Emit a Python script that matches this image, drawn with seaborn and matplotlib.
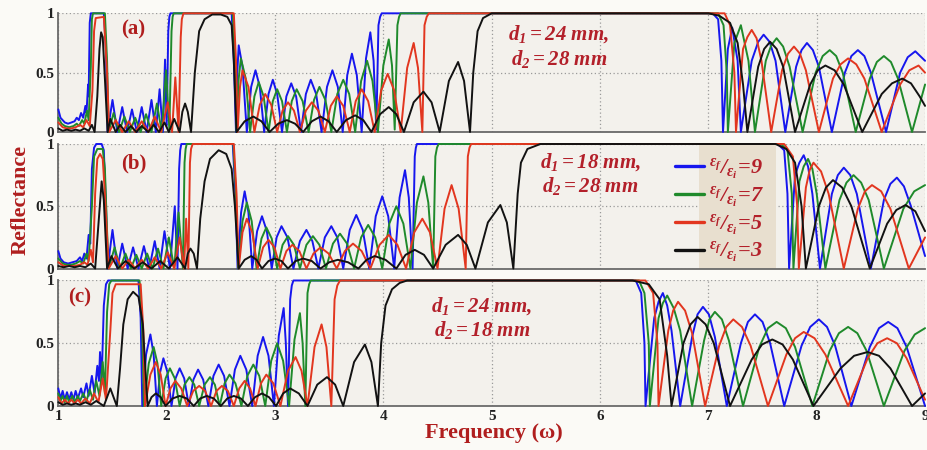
import matplotlib
matplotlib.use("Agg")
import matplotlib.pyplot as plt
import seaborn as sns
import pandas as pd
from matplotlib.lines import Line2D
from matplotlib.patches import Rectangle

# ---------------------------------------------------------------------------
# Reflectance spectra (frequency, reflectance) for three layer geometries and
# four permittivity ratios eps_f/eps_i = 9, 7, 5, 3.
# ---------------------------------------------------------------------------
ratios = [9, 7, 5, 3]
panel_tags = ["(a)", "(b)", "(c)"]
d1_mm = [24, 18, 24]
d2_mm = [28, 28, 18]
x_ticks = [1, 2, 3, 4, 5, 6, 7, 8, 9]
y_ticks = [0, 0.5, 1]
y_tick_labels = ["0", "0.5", "1"]

# ---- panel (a): d1 = 24 mm, d2 = 28 mm ----
A9 = [(1.00, 0.19), (1.02, 0.12), (1.04, 0.10), (1.06, 0.08), (1.09, 0.07), (1.12, 0.08), (1.15, 0.09),
      (1.17, 0.12), (1.19, 0.10), (1.21, 0.16), (1.23, 0.12), (1.25, 0.22), (1.26, 0.16), (1.275, 0.40),
      (1.28, 0.30), (1.29, 0.92), (1.30, 1.0), (1.42, 1.0), (1.44, 0.7), (1.455, 0.0),
      (1.50, 0.27), (1.545, 0.0), (1.59, 0.21), (1.635, 0.0), (1.68, 0.19), (1.725, 0.0), (1.77, 0.21),
      (1.815, 0.0), (1.86, 0.27), (1.90, 0.0), (1.935, 0.36), (1.965, 0.0), (1.985, 0.61), (2.00, 0.05),
      (2.015, 0.85), (2.025, 0.97), (2.035, 1.0), (2.60, 1.0), (2.62, 0.6), (2.64, 0.0),
      (2.652, 0.5), (2.665, 0.73), (2.70, 0.55), (2.74, 0.0), (2.78, 0.38), (2.82, 0.52), (2.86, 0.38),
      (2.90, 0.0), (2.94, 0.32), (2.98, 0.44), (3.02, 0.32), (3.065, 0.0), (3.105, 0.30), (3.15, 0.41),
      (3.195, 0.30), (3.24, 0.0), (3.285, 0.32), (3.33, 0.44), (3.38, 0.32), (3.43, 0.0), (3.48, 0.38),
      (3.53, 0.52), (3.58, 0.38), (3.625, 0.0), (3.667, 0.48), (3.71, 0.66), (3.755, 0.48), (3.80, 0.0),
      (3.84, 0.62), (3.88, 0.84), (3.91, 0.60), (3.935, 0.02), (3.955, 0.9), (3.97, 0.97), (3.985, 1.0),
      (7.04, 1.0), (7.09, 0.95), (7.12, 0.6), (7.135, 0.0), (7.18, 0.7), (7.22, 0.88), (7.27, 0.6),
      (7.30, 0.0), (7.40, 0.6), (7.46, 0.76), (7.51, 0.82), (7.565, 0.76), (7.62, 0.6), (7.71, 0.0),
      (7.81, 0.55), (7.86, 0.69), (7.91, 0.75), (7.965, 0.69), (8.02, 0.55), (8.14, 0.0), (8.26, 0.5),
      (8.32, 0.64), (8.38, 0.69), (8.44, 0.64), (8.50, 0.5), (8.64, 0.0), (8.77, 0.5), (8.84, 0.63),
      (8.91, 0.68), (9.00, 0.6)]
A7 = [(1.00, 0.12), (1.03, 0.07), (1.06, 0.05), (1.10, 0.04), (1.14, 0.05), (1.17, 0.07), (1.19, 0.05),
      (1.22, 0.10), (1.24, 0.07), (1.265, 0.18), (1.28, 0.10), (1.30, 0.55), (1.31, 0.95), (1.32, 1.0),
      (1.43, 1.0), (1.45, 0.6), (1.465, 0.0),
      (1.51, 0.16), (1.56, 0.0), (1.61, 0.13), (1.66, 0.0), (1.71, 0.12), (1.76, 0.0), (1.81, 0.15),
      (1.86, 0.0), (1.91, 0.24), (1.955, 0.0), (1.995, 0.52), (2.025, 0.02), (2.045, 0.85), (2.055, 0.97),
      (2.065, 1.0), (2.61, 1.0), (2.63, 0.6), (2.645, 0.0), (2.665, 0.45), (2.685, 0.62), (2.73, 0.45),
      (2.77, 0.0), (2.81, 0.30), (2.85, 0.42), (2.895, 0.30), (2.94, 0.0), (2.98, 0.26), (3.02, 0.36),
      (3.065, 0.26), (3.11, 0.0), (3.155, 0.26), (3.20, 0.36), (3.255, 0.26), (3.31, 0.0), (3.36, 0.27),
      (3.41, 0.38), (3.465, 0.27), (3.52, 0.0), (3.575, 0.32), (3.63, 0.44), (3.685, 0.32), (3.74, 0.0),
      (3.795, 0.43), (3.85, 0.60), (3.90, 0.43), (3.95, 0.0), (4.00, 0.56), (4.05, 0.78), (4.08, 0.56),
      (4.105, 0.02), (4.13, 0.9), (4.145, 0.97), (4.16, 1.0),
      (7.09, 1.0), (7.14, 0.9), (7.17, 0.5), (7.18, 0.0), (7.24, 0.75), (7.30, 0.9), (7.37, 0.6),
      (7.43, 0.0), (7.53, 0.6), (7.58, 0.73), (7.63, 0.79), (7.69, 0.72), (7.75, 0.55), (7.87, 0.0),
      (7.99, 0.5), (8.055, 0.64), (8.12, 0.69), (8.18, 0.64), (8.24, 0.5), (8.36, 0.0), (8.49, 0.45),
      (8.555, 0.59), (8.62, 0.64), (8.685, 0.59), (8.75, 0.45), (8.88, 0.0), (9.00, 0.4)]
A5 = [(1.00, 0.08), (1.04, 0.04), (1.08, 0.03), (1.12, 0.03), (1.16, 0.04), (1.20, 0.06), (1.23, 0.04),
      (1.26, 0.10), (1.29, 0.05), (1.315, 0.35), (1.33, 0.85), (1.345, 0.96), (1.42, 0.97), (1.45, 0.5),
      (1.47, 0.0),
      (1.53, 0.10), (1.59, 0.0), (1.65, 0.09), (1.71, 0.0), (1.77, 0.09), (1.83, 0.0), (1.89, 0.13),
      (1.95, 0.0), (2.01, 0.25), (2.05, 0.0), (2.08, 0.46), (2.11, 0.0), (2.13, 0.8), (2.14, 0.95),
      (2.155, 1.0), (2.62, 1.0), (2.64, 0.6), (2.655, 0.0), (2.677, 0.38), (2.70, 0.52), (2.755, 0.38),
      (2.81, 0.0), (2.86, 0.23), (2.91, 0.32), (2.965, 0.23), (3.02, 0.0), (3.07, 0.18), (3.12, 0.25),
      (3.175, 0.18), (3.23, 0.0), (3.285, 0.18), (3.34, 0.25), (3.40, 0.18), (3.46, 0.0), (3.515, 0.22),
      (3.57, 0.30), (3.63, 0.22), (3.69, 0.0), (3.745, 0.26), (3.80, 0.36), (3.86, 0.26), (3.92, 0.0),
      (3.98, 0.35), (4.04, 0.49), (4.10, 0.35), (4.16, 0.0), (4.22, 0.54), (4.28, 0.75), (4.32, 0.54),
      (4.36, 0.0), (4.38, 0.9), (4.40, 0.97), (4.42, 1.0),
      (7.15, 1.0), (7.20, 0.9), (7.24, 0.5), (7.255, 0.0), (7.32, 0.7), (7.36, 0.80), (7.40, 0.86),
      (7.445, 0.79), (7.49, 0.6), (7.58, 0.0), (7.68, 0.52), (7.735, 0.66), (7.79, 0.72), (7.845, 0.66),
      (7.90, 0.52), (8.02, 0.0), (8.15, 0.45), (8.22, 0.57), (8.29, 0.62), (8.365, 0.57), (8.44, 0.45),
      (8.60, 0.0), (8.77, 0.4), (8.855, 0.52), (8.94, 0.56), (9.00, 0.5)]
A3 = [(1.00, 0.03), (1.04, 0.01), (1.08, 0.02), (1.12, 0.01), (1.16, 0.02), (1.20, 0.01), (1.24, 0.03),
      (1.28, 0.01), (1.31, 0.06), (1.335, 0.0), (1.36, 0.3), (1.38, 0.7), (1.395, 0.84), (1.41, 0.8),
      (1.43, 0.45), (1.455, 0.0),
      (1.48, 0.11), (1.53, 0.0), (1.57, 0.06), (1.62, 0.0), (1.67, 0.05), (1.72, 0.0), (1.77, 0.05),
      (1.83, 0.0), (1.88, 0.06), (1.93, 0.0), (1.98, 0.08), (2.02, 0.0), (2.07, 0.11), (2.12, 0.0),
      (2.145, 0.17), (2.17, 0.24), (2.195, 0.17), (2.225, 0.0), (2.26, 0.5), (2.30, 0.85), (2.35, 0.95),
      (2.42, 0.99), (2.50, 0.99), (2.56, 0.97), (2.60, 0.9), (2.62, 0.6), (2.645, 0.0),
      (2.72, 0.09), (2.80, 0.13), (2.875, 0.09), (2.95, 0.0), (3.03, 0.07), (3.11, 0.10), (3.185, 0.07),
      (3.26, 0.0), (3.34, 0.09), (3.42, 0.13), (3.495, 0.09), (3.57, 0.0), (3.655, 0.10), (3.74, 0.14),
      (3.815, 0.10), (3.89, 0.0), (3.97, 0.15), (4.05, 0.21), (4.12, 0.15), (4.19, 0.0), (4.28, 0.25),
      (4.37, 0.34), (4.445, 0.25), (4.52, 0.0), (4.605, 0.43), (4.69, 0.59), (4.745, 0.43), (4.80, 0.0),
      (4.83, 0.5), (4.87, 0.85), (4.92, 0.96), (5.00, 1.0), (7.00, 1.0), (7.10, 0.98), (7.20, 0.92),
      (7.27, 0.75), (7.32, 0.4), (7.36, 0.0), (7.46, 0.55), (7.515, 0.70), (7.57, 0.76), (7.63, 0.70),
      (7.69, 0.55), (7.80, 0.0), (7.94, 0.4), (8.01, 0.52), (8.08, 0.56), (8.165, 0.52), (8.25, 0.4),
      (8.42, 0.0), (8.60, 0.32), (8.695, 0.41), (8.79, 0.45), (8.87, 0.41), (8.95, 0.3), (9.00, 0.22)]

# ---- panel (b): d1 = 18 mm, d2 = 28 mm ----
B9 = [(1.00, 0.14), (1.02, 0.08), (1.05, 0.05), (1.09, 0.04), (1.13, 0.05), (1.17, 0.06), (1.20, 0.09),
      (1.22, 0.06), (1.24, 0.12), (1.26, 0.08), (1.28, 0.27), (1.295, 0.2), (1.31, 0.8), (1.33, 0.97),
      (1.35, 1.0), (1.40, 1.0), (1.42, 0.95), (1.44, 0.5), (1.455, 0.0),
      (1.50, 0.31), (1.545, 0.0), (1.59, 0.20), (1.64, 0.0), (1.69, 0.17), (1.74, 0.0), (1.79, 0.18),
      (1.84, 0.0), (1.89, 0.22), (1.935, 0.0), (1.98, 0.30), (2.03, 0.0), (2.075, 0.50), (2.10, 0.0),
      (2.115, 0.8), (2.125, 0.95), (2.135, 1.0), (2.61, 1.0), (2.635, 0.6), (2.655, 0.0),
      (2.687, 0.45), (2.72, 0.62), (2.755, 0.45), (2.79, 0.0), (2.835, 0.30), (2.88, 0.42), (2.925, 0.30),
      (2.97, 0.0), (3.015, 0.25), (3.06, 0.34), (3.115, 0.25), (3.17, 0.0), (3.23, 0.22), (3.29, 0.31),
      (3.345, 0.22), (3.40, 0.0), (3.46, 0.25), (3.52, 0.34), (3.575, 0.25), (3.63, 0.0), (3.69, 0.31),
      (3.75, 0.43), (3.81, 0.31), (3.87, 0.0), (3.93, 0.42), (3.99, 0.58), (4.045, 0.42), (4.10, 0.0),
      (4.15, 0.57), (4.20, 0.79), (4.235, 0.57), (4.27, 0.0), (4.29, 0.9), (4.30, 0.97), (4.31, 1.0),
      (7.64, 1.0), (7.70, 0.95), (7.73, 0.6), (7.745, 0.0), (7.80, 0.75), (7.84, 0.85), (7.88, 0.91),
      (7.92, 0.82), (7.96, 0.6), (8.03, 0.0), (8.14, 0.6), (8.195, 0.75), (8.25, 0.81), (8.31, 0.75),
      (8.37, 0.6), (8.50, 0.0), (8.62, 0.55), (8.68, 0.68), (8.74, 0.73), (8.805, 0.66), (8.87, 0.5),
      (9.00, 0.1)]
B7 = [(1.00, 0.08), (1.04, 0.04), (1.08, 0.03), (1.12, 0.03), (1.16, 0.04), (1.20, 0.06), (1.23, 0.04),
      (1.26, 0.12), (1.28, 0.06), (1.31, 0.5), (1.33, 0.9), (1.36, 0.96), (1.41, 0.96), (1.43, 0.8),
      (1.45, 0.3), (1.465, 0.0),
      (1.52, 0.17), (1.57, 0.0), (1.62, 0.12), (1.67, 0.0), (1.72, 0.11), (1.77, 0.0), (1.82, 0.12),
      (1.87, 0.0), (1.92, 0.16), (1.97, 0.0), (2.02, 0.25), (2.07, 0.0), (2.11, 0.45), (2.15, 0.0),
      (2.165, 0.85), (2.175, 0.96), (2.185, 1.0), (2.615, 1.0), (2.64, 0.6), (2.66, 0.0),
      (2.70, 0.38), (2.74, 0.53), (2.785, 0.38), (2.83, 0.0), (2.875, 0.24), (2.92, 0.33), (2.97, 0.24),
      (3.02, 0.0), (3.07, 0.19), (3.12, 0.26), (3.175, 0.19), (3.23, 0.0), (3.29, 0.19), (3.35, 0.26),
      (3.41, 0.19), (3.47, 0.0), (3.535, 0.20), (3.60, 0.28), (3.665, 0.20), (3.73, 0.0), (3.795, 0.25),
      (3.86, 0.35), (3.925, 0.25), (3.99, 0.0), (4.055, 0.36), (4.12, 0.50), (4.185, 0.36), (4.25, 0.0),
      (4.31, 0.53), (4.37, 0.74), (4.415, 0.53), (4.46, 0.0), (4.48, 0.9), (4.495, 0.97), (4.51, 1.0),
      (7.67, 1.0), (7.73, 0.95), (7.77, 0.6), (7.785, 0.0), (7.84, 0.7), (7.88, 0.82), (7.92, 0.88),
      (7.96, 0.80), (8.00, 0.6), (8.08, 0.0), (8.21, 0.55), (8.275, 0.69), (8.34, 0.75), (8.41, 0.69),
      (8.48, 0.55), (8.62, 0.0), (8.80, 0.48), (8.90, 0.62), (9.00, 0.67)]
B5 = [(1.00, 0.05), (1.05, 0.02), (1.10, 0.02), (1.15, 0.02), (1.20, 0.03), (1.24, 0.05), (1.27, 0.03),
      (1.30, 0.15), (1.32, 0.05), (1.34, 0.6), (1.36, 0.88), (1.385, 0.92), (1.41, 0.88), (1.43, 0.6),
      (1.465, 0.0),
      (1.53, 0.10), (1.59, 0.0), (1.65, 0.07), (1.71, 0.0), (1.77, 0.07), (1.83, 0.0), (1.89, 0.09),
      (1.95, 0.0), (2.01, 0.13), (2.07, 0.0), (2.12, 0.25), (2.16, 0.0), (2.18, 0.40), (2.20, 0.0),
      (2.215, 0.85), (2.225, 0.96), (2.24, 1.0), (2.62, 1.0), (2.645, 0.6), (2.665, 0.0),
      (2.70, 0.29), (2.74, 0.40), (2.79, 0.29), (2.84, 0.0), (2.89, 0.17), (2.94, 0.23), (2.995, 0.17),
      (3.05, 0.0), (3.105, 0.14), (3.16, 0.19), (3.225, 0.14), (3.29, 0.0), (3.355, 0.12), (3.42, 0.17),
      (3.495, 0.12), (3.57, 0.0), (3.645, 0.14), (3.72, 0.20), (3.80, 0.14), (3.88, 0.0), (3.965, 0.19),
      (4.05, 0.27), (4.13, 0.19), (4.21, 0.0), (4.285, 0.29), (4.36, 0.40), (4.43, 0.29), (4.50, 0.0),
      (4.565, 0.48), (4.63, 0.67), (4.695, 0.48), (4.76, 0.0), (4.78, 0.9), (4.795, 0.97), (4.81, 1.0),
      (7.70, 1.0), (7.78, 0.9), (7.82, 0.5), (7.835, 0.0), (7.90, 0.65), (7.935, 0.79), (7.97, 0.85),
      (8.04, 0.78), (8.11, 0.6), (8.25, 0.0), (8.38, 0.48), (8.445, 0.62), (8.51, 0.67), (8.595, 0.62),
      (8.68, 0.48), (8.85, 0.0), (9.00, 0.25)]
B3 = [(1.00, 0.02), (1.05, 0.01), (1.10, 0.02), (1.15, 0.01), (1.20, 0.02), (1.25, 0.01), (1.30, 0.04),
      (1.34, 0.0), (1.37, 0.35), (1.40, 0.70), (1.42, 0.55), (1.45, 0.0),
      (1.49, 0.10), (1.55, 0.0), (1.62, 0.06), (1.70, 0.0), (1.78, 0.05), (1.86, 0.0), (1.94, 0.06),
      (2.02, 0.0), (2.10, 0.09), (2.17, 0.0), (2.195, 0.12), (2.22, 0.16), (2.25, 0.12), (2.28, 0.0),
      (2.31, 0.4), (2.35, 0.7), (2.40, 0.88), (2.48, 0.95), (2.55, 0.92), (2.60, 0.8), (2.63, 0.5),
      (2.665, 0.0), (2.72, 0.07), (2.78, 0.10), (2.83, 0.07), (2.88, 0.0), (2.94, 0.06), (3.00, 0.08),
      (3.06, 0.06), (3.12, 0.0), (3.19, 0.06), (3.26, 0.08), (3.34, 0.06), (3.42, 0.0), (3.50, 0.05),
      (3.58, 0.07), (3.675, 0.05), (3.77, 0.0), (3.845, 0.07), (3.92, 0.10), (4.02, 0.07), (4.12, 0.0),
      (4.205, 0.11), (4.29, 0.15), (4.375, 0.11), (4.46, 0.0), (4.575, 0.19), (4.69, 0.27), (4.77, 0.19),
      (4.85, 0.0), (4.965, 0.37), (5.08, 0.51), (5.14, 0.37), (5.20, 0.0), (5.24, 0.6), (5.27, 0.85),
      (5.33, 0.96), (5.45, 1.0), (7.62, 1.0), (7.72, 0.96), (7.80, 0.85), (7.86, 0.5), (7.90, 0.0),
      (8.02, 0.5), (8.085, 0.65), (8.15, 0.71), (8.235, 0.65), (8.32, 0.5), (8.49, 0.0), (8.65, 0.36),
      (8.735, 0.47), (8.82, 0.51), (8.91, 0.46), (9.00, 0.3)]

# ---- panel (c): d1 = 24 mm, d2 = 18 mm ----
C9 = [(1.00, 0.14), (1.02, 0.06), (1.04, 0.12), (1.06, 0.05), (1.08, 0.11), (1.10, 0.05), (1.12, 0.11),
      (1.14, 0.05), (1.16, 0.12), (1.18, 0.06), (1.21, 0.14), (1.23, 0.07), (1.26, 0.18), (1.28, 0.08),
      (1.31, 0.24), (1.335, 0.10), (1.36, 0.32), (1.375, 0.20), (1.385, 0.43), (1.40, 0.20), (1.42, 0.8),
      (1.44, 0.97), (1.46, 1.0), (1.74, 1.0), (1.76, 0.7), (1.775, 0.0),
      (1.81, 0.41), (1.85, 0.57), (1.88, 0.41), (1.91, 0.0), (1.94, 0.27), (1.97, 0.38), (2.007, 0.27),
      (2.045, 0.0), (2.082, 0.22), (2.12, 0.30), (2.162, 0.22), (2.205, 0.0), (2.247, 0.21), (2.29, 0.29),
      (2.337, 0.21), (2.385, 0.0), (2.432, 0.24), (2.48, 0.33), (2.53, 0.24), (2.58, 0.0), (2.63, 0.29),
      (2.68, 0.40), (2.735, 0.29), (2.79, 0.0), (2.84, 0.40), (2.89, 0.55), (2.94, 0.40), (2.99, 0.0),
      (3.035, 0.56), (3.08, 0.78), (3.10, 0.50), (3.12, 0.0), (3.14, 0.85), (3.155, 0.96), (3.17, 1.0),
      (6.33, 1.0), (6.38, 0.9), (6.41, 0.5), (6.42, 0.0), (6.50, 0.7), (6.54, 0.83), (6.58, 0.90),
      (6.62, 0.80), (6.66, 0.6), (6.74, 0.0), (6.85, 0.55), (6.90, 0.73), (6.95, 0.79), (7.005, 0.73),
      (7.06, 0.55), (7.17, 0.0), (7.30, 0.5), (7.365, 0.67), (7.43, 0.73), (7.50, 0.67), (7.57, 0.5),
      (7.70, 0.0), (7.86, 0.48), (7.94, 0.63), (8.02, 0.69), (8.095, 0.63), (8.17, 0.48), (8.32, 0.0),
      (8.49, 0.47), (8.575, 0.62), (8.66, 0.67), (8.745, 0.62), (8.83, 0.47), (9.00, 0.0)]
C7 = [(1.00, 0.10), (1.02, 0.04), (1.04, 0.08), (1.06, 0.03), (1.08, 0.08), (1.10, 0.03), (1.13, 0.08),
      (1.15, 0.03), (1.18, 0.08), (1.20, 0.04), (1.23, 0.10), (1.26, 0.04), (1.29, 0.13), (1.32, 0.05),
      (1.35, 0.20), (1.38, 0.08), (1.41, 0.35), (1.43, 0.10), (1.45, 0.75), (1.47, 0.97), (1.49, 1.0),
      (1.75, 1.0), (1.775, 0.6), (1.79, 0.0),
      (1.835, 0.34), (1.88, 0.47), (1.915, 0.34), (1.95, 0.0), (1.99, 0.22), (2.03, 0.30), (2.075, 0.22),
      (2.12, 0.0), (2.165, 0.17), (2.21, 0.23), (2.255, 0.17), (2.30, 0.0), (2.35, 0.17), (2.40, 0.23),
      (2.445, 0.17), (2.49, 0.0), (2.535, 0.18), (2.58, 0.25), (2.635, 0.18), (2.69, 0.0), (2.745, 0.24),
      (2.80, 0.33), (2.855, 0.24), (2.91, 0.0), (2.965, 0.36), (3.02, 0.50), (3.075, 0.36), (3.13, 0.0),
      (3.18, 0.53), (3.23, 0.74), (3.255, 0.50), (3.28, 0.0), (3.30, 0.9), (3.315, 0.97), (3.33, 1.0),
      (6.36, 1.0), (6.41, 0.9), (6.45, 0.5), (6.46, 0.0), (6.54, 0.7), (6.58, 0.82), (6.62, 0.88),
      (6.68, 0.78), (6.74, 0.6), (6.85, 0.0), (6.96, 0.52), (7.01, 0.69), (7.06, 0.75), (7.125, 0.69),
      (7.19, 0.52), (7.32, 0.0), (7.47, 0.47), (7.55, 0.62), (7.63, 0.67), (7.715, 0.62), (7.80, 0.47),
      (7.96, 0.0), (8.12, 0.44), (8.205, 0.58), (8.29, 0.63), (8.375, 0.58), (8.46, 0.44), (8.62, 0.0),
      (8.81, 0.44), (8.905, 0.57), (9.00, 0.62)]
C5 = [(1.00, 0.07), (1.03, 0.02), (1.06, 0.05), (1.09, 0.02), (1.12, 0.05), (1.15, 0.02), (1.18, 0.05),
      (1.21, 0.02), (1.25, 0.06), (1.29, 0.02), (1.33, 0.10), (1.37, 0.03), (1.41, 0.22), (1.44, 0.05),
      (1.48, 0.6), (1.50, 0.9), (1.53, 0.97), (1.76, 0.97), (1.785, 0.6), (1.80, 0.0),
      (1.85, 0.25), (1.90, 0.35), (1.945, 0.25), (1.99, 0.0), (2.035, 0.14), (2.08, 0.20), (2.135, 0.14),
      (2.19, 0.0), (2.245, 0.12), (2.30, 0.16), (2.355, 0.12), (2.41, 0.0), (2.46, 0.12), (2.51, 0.16),
      (2.565, 0.12), (2.62, 0.0), (2.67, 0.14), (2.72, 0.20), (2.77, 0.14), (2.82, 0.0), (2.87, 0.18),
      (2.92, 0.25), (2.985, 0.18), (3.05, 0.0), (3.12, 0.28), (3.19, 0.39), (3.245, 0.28), (3.30, 0.0),
      (3.365, 0.47), (3.43, 0.65), (3.475, 0.47), (3.52, 0.0), (3.55, 0.85), (3.575, 0.96), (3.60, 1.0),
      (6.42, 1.0), (6.49, 0.9), (6.53, 0.5), (6.54, 0.0), (6.63, 0.6), (6.675, 0.76), (6.72, 0.83),
      (6.785, 0.76), (6.85, 0.58), (6.97, 0.0), (7.10, 0.48), (7.165, 0.63), (7.23, 0.69), (7.31, 0.63),
      (7.39, 0.48), (7.55, 0.0), (7.72, 0.41), (7.80, 0.54), (7.88, 0.59), (7.98, 0.54), (8.08, 0.41),
      (8.29, 0.0), (8.47, 0.38), (8.56, 0.50), (8.65, 0.54), (8.74, 0.50), (8.83, 0.38), (9.00, 0.05)]
C3 = [(1.00, 0.03), (1.04, 0.01), (1.08, 0.02), (1.12, 0.01), (1.16, 0.02), (1.20, 0.01), (1.25, 0.03),
      (1.30, 0.01), (1.35, 0.04), (1.42, 0.0), (1.48, 0.14), (1.54, 0.0), (1.57, 0.3), (1.60, 0.65),
      (1.64, 0.85), (1.69, 0.91), (1.74, 0.87), (1.78, 0.65), (1.81, 0.2), (1.825, 0.0),
      (1.86, 0.07), (1.90, 0.10), (1.945, 0.07), (1.99, 0.0), (2.055, 0.06), (2.12, 0.08), (2.185, 0.06),
      (2.25, 0.0), (2.31, 0.06), (2.37, 0.08), (2.435, 0.06), (2.50, 0.0), (2.56, 0.06), (2.62, 0.08),
      (2.685, 0.06), (2.75, 0.0), (2.815, 0.07), (2.88, 0.10), (2.945, 0.07), (3.01, 0.0), (3.075, 0.10),
      (3.14, 0.14), (3.22, 0.10), (3.30, 0.0), (3.39, 0.17), (3.48, 0.23), (3.555, 0.17), (3.63, 0.0),
      (3.73, 0.35), (3.83, 0.49), (3.89, 0.35), (3.95, 0.0), (3.98, 0.5), (4.02, 0.8), (4.08, 0.93),
      (4.15, 0.98), (4.22, 1.0),
      (6.30, 1.0), (6.45, 0.97), (6.55, 0.85), (6.62, 0.4), (6.66, 0.0), (6.77, 0.5), (6.835, 0.65),
      (6.90, 0.71), (6.975, 0.65), (7.05, 0.5), (7.20, 0.0), (7.40, 0.37), (7.495, 0.49), (7.59, 0.53),
      (7.685, 0.49), (7.78, 0.37), (7.97, 0.0), (8.22, 0.3), (8.345, 0.40), (8.47, 0.43), (8.575, 0.40),
      (8.68, 0.3), (8.88, 0.0), (9.00, 0.1)]

spectra = {
    "a": {9: A9, 7: A7, 5: A5, 3: A3},
    "b": {9: B9, 7: B7, 5: B5, 3: B3},
    "c": {9: C9, 7: C7, 5: C5, 3: C3},
}

# ---------------------------------------------------------------------------
# Styling
# ---------------------------------------------------------------------------
sns.set_theme(style="white")
plt.rcParams["font.family"] = ["Liberation Serif", "DejaVu Serif"]
plt.rcParams["mathtext.fontset"] = "custom"
plt.rcParams["mathtext.rm"] = "Liberation Serif:bold:italic"
plt.rcParams["mathtext.it"] = "Liberation Serif:bold:italic"
plt.rcParams["mathtext.bf"] = "Liberation Serif:bold:italic"

line_colors = {9: "#1616ee", 7: "#1f8a2b", 5: "#e2361f", 3: "#121212"}
text_red = "#b3202a"
label_red = "#b01e1e"
fig_bg = "#fbfaf6"
ax_bg = "#f3f1ec"
legend_bg = "#e8dfcf"

fig = plt.figure(figsize=(9.27, 4.5), dpi=100, facecolor=fig_bg)
left, width = 0.0629, 0.935
boxes = [(0.7067, 0.2637), (0.4033, 0.2767), (0.0978, 0.2789)]

tag_pos = [(1.69, 0.86), (1.70, 0.84), (1.20, 0.865)]
note_pos = [(5.62, 0.72), (5.91, 0.76), (4.91, 0.70)]

for i, key in enumerate(["a", "b", "c"]):
    bottom, height = boxes[i]
    ax = fig.add_axes([left, bottom, width, height])
    ax.set_facecolor(ax_bg)

    for ratio in ratios:
        pts = spectra[key][ratio]
        df = pd.DataFrame(pts, columns=["frequency", "reflectance"])
        sns.lineplot(data=df, x="frequency", y="reflectance", ax=ax,
                     color=line_colors[ratio], linewidth=1.4, sort=False,
                     estimator=None, legend=False, zorder=3)
    for ln in ax.lines:
        ln.set_clip_on(False)
        ln.set_solid_joinstyle("round")

    ax.set_xlim(1, 9)
    ax.set_ylim(0, 1)
    ax.set_xticks(x_ticks)
    ax.set_yticks(y_ticks)
    ax.set_yticklabels(y_tick_labels)
    if key == "c":
        ax.set_xticklabels([str(t) for t in x_ticks])
    else:
        ax.set_xticklabels([])
    ax.set_xlabel("")
    ax.set_ylabel("")
    ax.grid(True, color="#9a9a9a", linestyle=(0, (1, 2)), linewidth=0.9)
    ax.set_axisbelow(True)
    for side in ["top", "right"]:
        ax.spines[side].set_visible(False)
    for side in ["left", "bottom"]:
        ax.spines[side].set_color("#6a6a6a")
        ax.spines[side].set_linewidth(1.3)
    ax.tick_params(direction="in", length=4, width=1, color="#555555",
                   labelsize=11, pad=3)
    for lab in ax.get_xticklabels() + ax.get_yticklabels():
        lab.set_fontweight("bold")
        lab.set_color("#222222")

    ax.text(tag_pos[i][0], tag_pos[i][1], panel_tags[i], fontsize=15,
            fontweight="bold", color=label_red, ha="center", va="center")
    note = (r"$d_1 = %d\ mm,$" % d1_mm[i]) + "\n" + (r"$d_2 = %d\ mm$" % d2_mm[i])
    ax.text(note_pos[i][0], note_pos[i][1], note, fontsize=15,
            color=text_red, ha="center", va="center", linespacing=1.15)

    if key == "b":
        ax.add_patch(Rectangle((6.91, 0), 0.71, 1.0, facecolor=legend_bg,
                               edgecolor="none", zorder=1.5))
        handles = [Line2D([0], [0], color=line_colors[r], lw=2.4) for r in ratios]
        labels = [r"$^{\epsilon_f}/_{\epsilon_i}\!=\!%d$" % r for r in ratios]
        leg = ax.legend(handles, labels, loc="upper left",
                        bbox_to_anchor=(0.712, 0.895), frameon=False,
                        handlelength=1.3, handletextpad=0.2, labelspacing=0.12,
                        borderpad=0.0, borderaxespad=0.0, fontsize=16)
        for t in leg.get_texts():
            t.set_color(text_red)

fig.text(0.022, 0.556, "Reflectance", rotation=90, fontsize=16,
         fontweight="bold", color=label_red, ha="center", va="center")
fig.text(0.533, 0.038, "Frequency (\u03c9)", fontsize=16,
         fontweight="bold", color=label_red, ha="center", va="center")

fig.savefig("out.png", dpi=100, facecolor=fig_bg)
